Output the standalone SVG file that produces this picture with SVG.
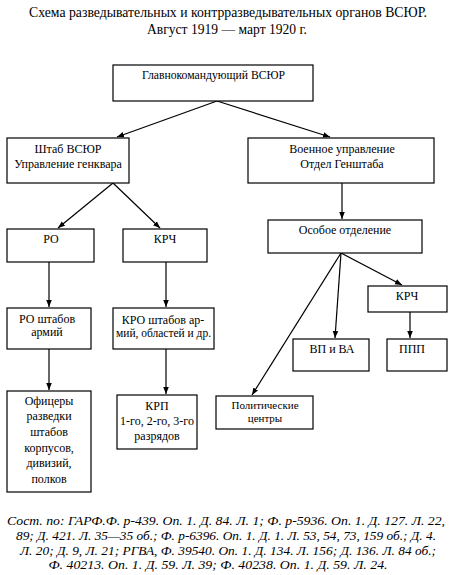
<svg xmlns="http://www.w3.org/2000/svg" width="452" height="575" viewBox="0 0 452 575">
<defs>
<marker id="ah" viewBox="0 0 10 10" refX="10" refY="5" markerWidth="7" markerHeight="7" markerUnits="userSpaceOnUse" orient="auto">
<path d="M0,1 L10,5 L0,9 z" fill="#000"/>
</marker>
<style>
.box{fill:#fff;stroke:#000;stroke-width:1.2}
.t{font-family:"Liberation Serif","Times New Roman",serif;font-size:12px;fill:#000;text-anchor:middle}
.title{font-family:"Liberation Serif","Times New Roman",serif;font-size:14.5px;fill:#000;text-anchor:middle}
.fn{font-family:"Liberation Serif","Times New Roman",serif;font-size:13.5px;font-style:italic;fill:#000;text-anchor:middle}
.c{stroke:#000;stroke-width:1.2;fill:none;marker-end:url(#ah)}
</style>
</defs>
<rect width="452" height="575" fill="#fff"/>
<text class="title" x="228" y="17" textLength="398" lengthAdjust="spacingAndGlyphs">Схема разведывательных и контрразведывательных органов ВСЮР.</text>
<text class="title" x="227" y="34" textLength="160" lengthAdjust="spacingAndGlyphs">Август 1919 — март 1920 г.</text>

<g id="connectors">
<line class="c" x1="217" y1="101" x2="117" y2="137"/>
<line class="c" x1="217" y1="101" x2="330" y2="137"/>
<line class="c" x1="113" y1="183" x2="58" y2="228"/>
<line class="c" x1="113" y1="183" x2="160" y2="228"/>
<line class="c" x1="342" y1="183" x2="342" y2="219"/>
<line class="c" x1="341" y1="253" x2="252" y2="395"/>
<line class="c" x1="341" y1="253" x2="335" y2="338"/>
<line class="c" x1="341" y1="253" x2="402" y2="285"/>
<line class="c" x1="49" y1="262" x2="49" y2="307"/>
<line class="c" x1="166" y1="262" x2="166" y2="307"/>
<line class="c" x1="49" y1="349" x2="49" y2="390"/>
<line class="c" x1="166" y1="349" x2="166" y2="394"/>
<line class="c" x1="410" y1="312" x2="410" y2="338"/>
</g>

<g id="glavkom"><rect class="box" x="113" y="65" width="200" height="36"/><text class="t" x="213.5" y="79" textLength="143" lengthAdjust="spacingAndGlyphs">Главнокомандующий ВСЮР</text></g>
<g id="shtab"><rect class="box" x="7" y="138" width="122" height="45"/><text class="t" x="68" y="153">Штаб ВСЮР</text><text class="t" x="68" y="168">Управление генквара</text></g>
<g id="voen"><rect class="box" x="248" y="138" width="186" height="45"/><text class="t" x="342" y="153">Военное управление</text><text class="t" x="342" y="168">Отдел Генштаба</text></g>
<g id="ro"><rect class="box" x="7" y="229" width="87" height="33"/><text class="t" x="51" y="243">РО</text></g>
<g id="krch1"><rect class="box" x="123" y="229" width="84" height="33"/><text class="t" x="165" y="243">КРЧ</text></g>
<g id="osoboe"><rect class="box" x="268" y="220" width="154" height="33"/><text class="t" x="345" y="234">Особое отделение</text></g>
<g id="roshtab"><rect class="box" x="7" y="308" width="84" height="41"/><text class="t" x="47" y="323">РО штабов</text><text class="t" x="47" y="336">армий</text></g>
<g id="kro"><rect class="box" x="113" y="308" width="101" height="41"/><text class="t" x="163" y="324">КРО штабов ар-</text><text class="t" x="163.5" y="337" textLength="95" lengthAdjust="spacingAndGlyphs">мий, областей и др.</text></g>
<g id="krch2"><rect class="box" x="368" y="286" width="79" height="26"/><text class="t" x="407" y="300">КРЧ</text></g>
<g id="vpva"><rect class="box" x="293" y="339" width="76" height="32"/><text class="t" x="332" y="353">ВП и ВА</text></g>
<g id="ppp"><rect class="box" x="387" y="339" width="60" height="32"/><text class="t" x="412" y="353">ППП</text></g>
<g id="ofic"><rect class="box" x="7" y="391" width="84" height="101"/>
<text class="t" x="49" y="405">Офицеры</text><text class="t" x="49" y="420">разведки</text><text class="t" x="49" y="436">штабов</text><text class="t" x="49" y="452">корпусов,</text><text class="t" x="49" y="467">дивизий,</text><text class="t" x="49" y="483">полков</text></g>
<g id="krp"><rect class="box" x="117" y="395" width="80" height="54"/><text class="t" x="157" y="410">КРП</text><text class="t" x="157" y="425">1-го, 2-го, 3-го</text><text class="t" x="157" y="440">разрядов</text></g>
<g id="polit"><rect class="box" x="216" y="396" width="97" height="33"/><text class="t" x="265" y="409" style="font-size:11px">Политические</text><text class="t" x="265" y="422" style="font-size:11px">центры</text></g>

<text class="fn" x="226" y="525" textLength="438" lengthAdjust="spacingAndGlyphs">Сост. по: ГАРФ.Ф. р-439. Оп. 1. Д. 84. Л. 1; Ф. р-5936. Оп. 1. Д. 127. Л. 22,</text>
<text class="fn" x="226" y="540" textLength="420" lengthAdjust="spacingAndGlyphs">89; Д. 421. Л. 35—35 об.; Ф. р-6396. Оп. 1. Д. 1. Л. 53, 54, 73, 159 об.; Д. 4.</text>
<text class="fn" x="228" y="555" textLength="416" lengthAdjust="spacingAndGlyphs">Л. 20; Д. 9, Л. 21; РГВА, Ф. 39540. Оп. 1. Д. 134. Л. 156; Д. 136. Л. 84 об.;</text>
<text class="fn" x="218" y="569" textLength="339" lengthAdjust="spacingAndGlyphs">Ф. 40213. Оп. 1. Д. 59. Л. 39; Ф. 40238. Оп. 1. Д. 59. Л. 24.</text>
</svg>
